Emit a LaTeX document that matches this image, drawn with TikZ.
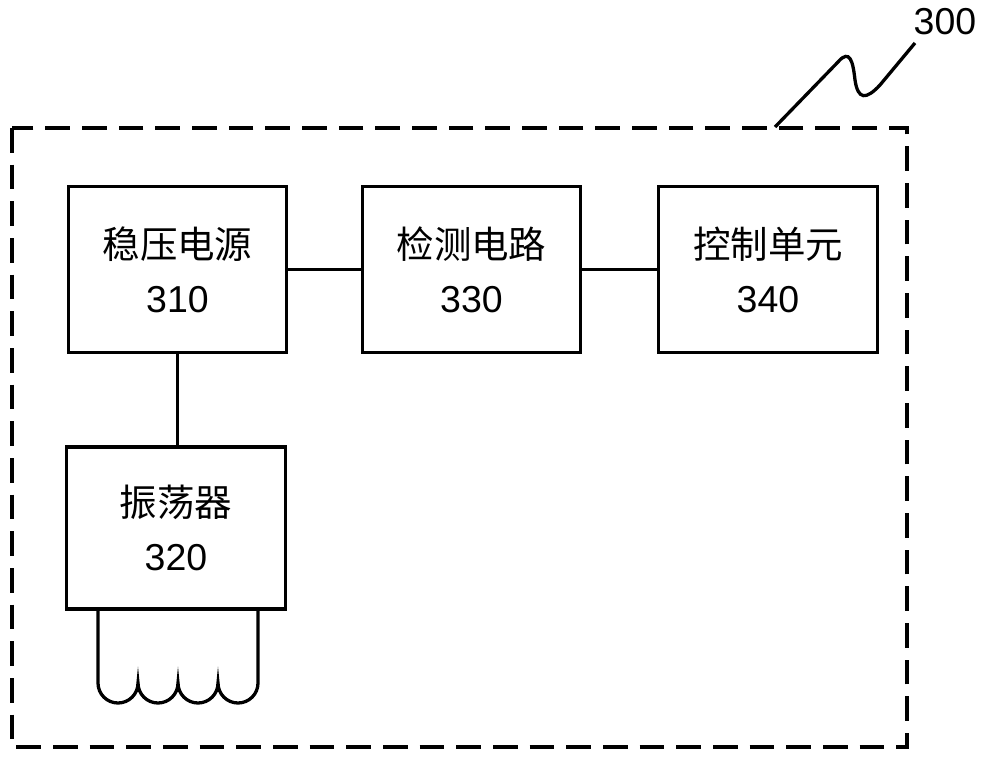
\documentclass[tikz,border=0pt]{standalone}
\usepackage{fontspec}
\setmainfont{Liberation Sans}
\newfontfamily\cjk{Noto Sans CJK SC}
\tikzset{
    px/.style={x=0.015cm, y=-0.015cm}, % one unit is one pixel of the reference
    }

\begin{document}
\begin{tikzpicture}[px, line width=1.4pt,
blocknode/.style={draw, minimum width=3.28cm, minimum height=2.48cm, align=center, font=\fontsize{16}{23}\selectfont},
]
\useasboundingbox (0,0) rectangle (1000,759);
\draw[dash pattern=on 0.37cm off 0.18cm] (12,128) rectangle (907,747);

\node[blocknode] (power) at (177.5,269.5) {{\cjk 稳压电源}\\310};
\node[blocknode] (detect) at (471.5,269.5) {{\cjk 检测电路}\\330};
\node[blocknode] (control) at (768,269.5) {{\cjk 控制单元}\\340};
\node[blocknode, minimum height=2.43cm] (osc) at (176,528) {{\cjk 振荡器}\\320};

\draw (power.east) -- (detect.west);
\draw (detect.east) -- (control.west);
\draw (power.south) -- (power.south |- osc.north);

% coil below the oscillator
\coordinate (coilL) at (98,609);
\coordinate (coilR) at (258,609);
\draw (coilL) -- (98,683) arc[start angle=180, end angle=0, radius=20]
  arc[start angle=180, end angle=0, radius=20]
  arc[start angle=180, end angle=0, radius=20]
  arc[start angle=180, end angle=0, radius=20] -- (coilR);

% label 300
\node[font=\fontsize{16}{19}\selectfont] (lbl) at (945,22) {300};
\draw (775,127) -- (838,62) .. controls (850,48) and (853,62) .. (855,80)
  .. controls (858,100) and (866,100) .. (880,85) -- (915,43);
\end{tikzpicture}
\end{document}
